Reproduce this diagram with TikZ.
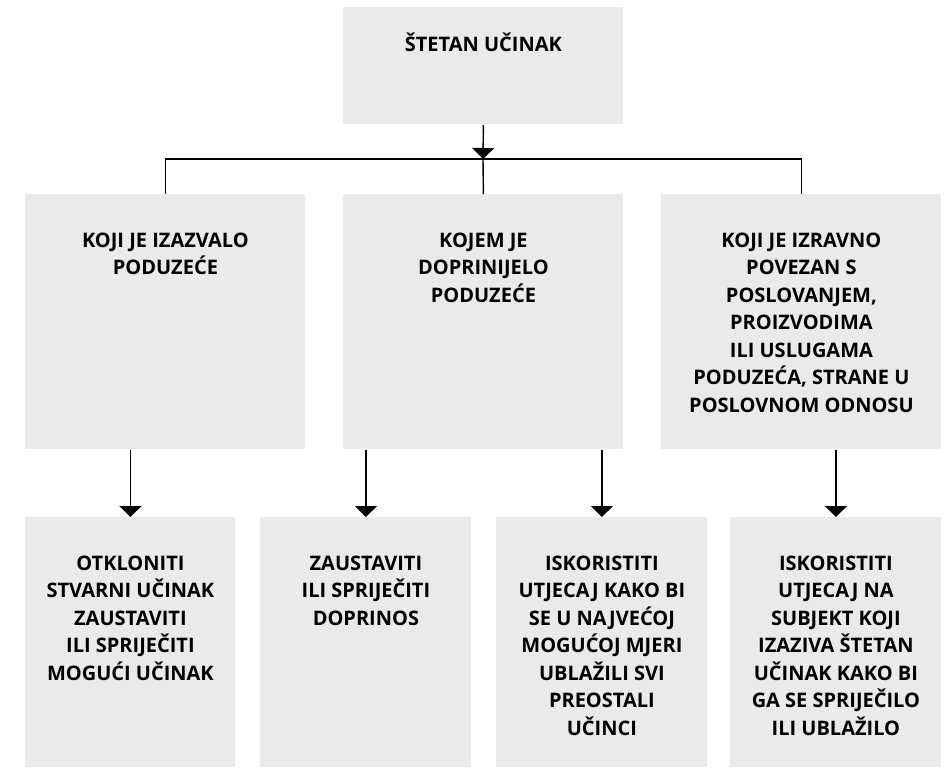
\documentclass[tikz,border=0pt]{standalone}
\usepackage{fontspec}
\setmainfont{Open Sans}
\usetikzlibrary{arrows.meta}
\definecolor{grisboite}{RGB}{234,234,234}
\newcommand{\cadre}[4]{\parbox[b][#2][t]{#1}{\centering\rule{0pt}{#3}#4}}
\tikzset{
  boite/.style={fill=grisboite, inner sep=0pt, anchor=north west, font=\bfseries\fontsize{10pt}{13.75pt}\selectfont},
  fleche/.style={-{Triangle[width=11pt,length=5.5pt]}, line width=0.7pt},
  trait/.style={line width=0.7pt}
}
\begin{document}
\begin{tikzpicture}[x=0.5pt,y=-0.5pt]
                \useasboundingbox (0,0) rectangle (946,767);
                \node[boite] (effet) at (343,7) {\cadre{140pt}{58.5pt}{22pt}{ŠTETAN UČINAK}};
                \node[boite] (izazvalo) at (25,194) {\cadre{140pt}{127.5pt}{26.5pt}{KOJI JE IZAZVALO\\PODUZEĆE}};
                \node[boite] (doprinijelo) at (343,194) {\cadre{140pt}{127.5pt}{26.5pt}{KOJEM JE\\DOPRINIJELO\\PODUZEĆE}};
                \node[boite] (povezan) at (661,194) {\cadre{140pt}{127.5pt}{26.5pt}{KOJI JE IZRAVNO\\POVEZAN S\\POSLOVANJEM,\\PROIZVODIMA\\ILI USLUGAMA\\PODUZEĆA, STRANE U\\POSLOVNOM ODNOSU}};
                \node[boite] (otkloniti) at (25,517) {\cadre{105pt}{125pt}{26.5pt}{OTKLONITI\\STVARNI UČINAK\\ZAUSTAVITI\\ILI SPRIJEČITI\\MOGUĆI UČINAK}};
                \node[boite] (zaustaviti) at (260,517) {\cadre{105.5pt}{125pt}{26.5pt}{ZAUSTAVITI\\ILI SPRIJEČITI\\DOPRINOS}};
                \node[boite] (ublazili) at (496,517) {\cadre{105.5pt}{125pt}{26.5pt}{ISKORISTITI\\UTJECAJ KAKO BI\\SE U NAJVEĆOJ\\MOGUĆOJ MJERI\\UBLAŽILI SVI\\PREOSTALI\\UČINCI}};
                \node[boite] (utjecaj) at (730,517) {\cadre{105.5pt}{125pt}{26.5pt}{ISKORISTITI\\UTJECAJ NA\\SUBJEKT KOJI\\IZAZIVA ŠTETAN\\UČINAK KAKO BI\\GA SE SPRIJEČILO\\ILI UBLAŽILO}};
                \coordinate (jonction) at (483,159);%point de branchement
                \draw[fleche] (effet.south) -- (jonction);
                \draw[trait] (izazvalo.north) |- (jonction) -| (povezan.north);
                \draw[trait] (jonction) -- (doprinijelo.north);
                \draw[fleche] (izazvalo.south -| otkloniti.north) -- (otkloniti.north);
                \draw[fleche] (doprinijelo.south -| zaustaviti.north) -- (zaustaviti.north);
                \draw[fleche] (doprinijelo.south -| ublazili.north) -- (ublazili.north);
                \draw[fleche] (povezan.south -| utjecaj.north) -- (utjecaj.north);
            \end{tikzpicture}
\end{document}
